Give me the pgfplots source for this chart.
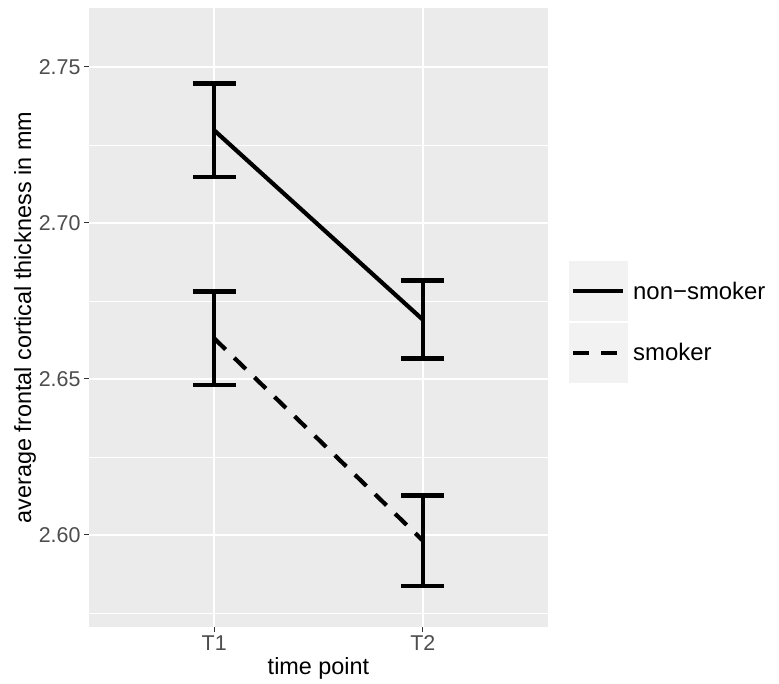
\documentclass[border=0pt]{standalone}
\usepackage{fontspec}
\setmainfont{Liberation Sans}
\usepackage{pgfplots}
\pgfplotsset{compat=1.18}
\definecolor{panel}{HTML}{EBEBEB}
\definecolor{keybg}{HTML}{F2F2F2}
\definecolor{ticktxt}{HTML}{4D4D4D}
\definecolor{tickcol}{HTML}{333333}

\begin{document}
\begin{tikzpicture}
\begin{axis}[
  name=ax,
  scale only axis, width=459bp, height=619bp,
  xmin=0.4, xmax=2.6, ymin=2.5705, ymax=2.7689,
  xtick={1,2}, xticklabels={T1,T2},
  ytick={2.60,2.65,2.70,2.75},
  yticklabels={2.60,2.65,2.70,2.75},
  minor ytick={2.575,2.625,2.675,2.725},
  grid=both,
  major grid style={white, line width=1.4bp},
  minor grid style={white, line width=0.7bp},
  axis background/.style={fill=panel},
  axis line style={draw=none},
  tick pos=left, tick align=outside,
  major tick length=5bp, minor tick length=0pt,
  tick style={tickcol, line width=1bp},
  /pgf/number format/assume math mode=true,
  ticklabel style={font=\fontsize{21.5}{24}\selectfont, text=ticktxt},
  xlabel={time point},
  ylabel={average frontal cortical thickness in mm},
  ylabel shift=-4bp,
  label style={font=\fontsize{23.5}{27}\selectfont},
  legend style={at={(1,1)}, anchor=north west, xshift=21bp, yshift=-253bp,
    draw=none, fill=none, inner sep=0pt, row sep=1.5bp, column sep=5bp,
    nodes={inner sep=0pt, font=\fontsize{24}{28}\selectfont}},
  legend cell align=left,
  legend image code/.code={
    \fill[keybg, draw=none, solid] (0bp,-30bp) rectangle (59bp,30bp);
    \draw[#1] (4bp,0bp) -- (54bp,0bp);
  },
]
% non-smoker
\addplot[black, line width=4.2bp, solid, mark=none,
  error bars/.cd, y dir=both, y explicit, error mark=|,
  error bar style={solid, line width=4.5bp},
  error mark options={solid, line width=4.5bp, mark size=21.5bp}]
  coordinates {(1,2.7297) +- (0,0.0150) (2,2.6690) +- (0,0.0125)};
\addlegendentry{non\textminus smoker}
% smoker
\addplot[black, line width=4.2bp, dash pattern=on 16bp off 12bp, mark=none,
  error bars/.cd, y dir=both, y explicit, error mark=|,
  error bar style={solid, line width=4.5bp},
  error mark options={solid, line width=4.5bp, mark size=21.5bp}]
  coordinates {(1,2.6630) +- (0,0.0150) (2,2.5982) +- (0,0.0145)};
\addlegendentry{smoker}
\end{axis}
\path (ax.south west) ++(-89bp,-57bp) rectangle ++(779bp,684bp);
\end{tikzpicture}
\end{document}
